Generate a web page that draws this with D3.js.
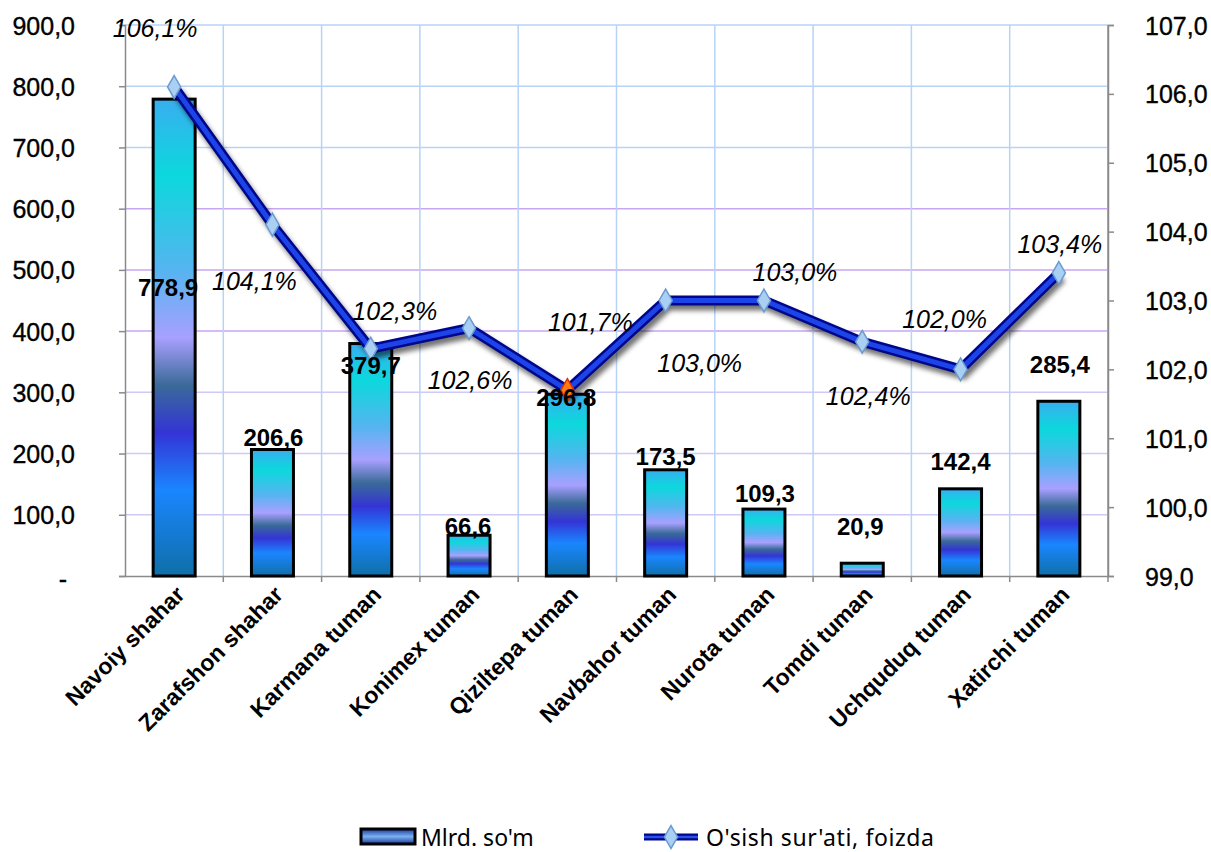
<!DOCTYPE html>
<html><head><meta charset="utf-8">
<script src="https://cdn.jsdelivr.net/npm/d3@7"></script>
<style>
body{margin:0;background:#fff;}
svg{display:block;}
</style></head>
<body>
<svg id="chart" width="1211" height="852"></svg>
<script>
const categories = ["Navoiy shahar","Zarafshon shahar","Karmana tuman","Konimex tuman","Qiziltepa tuman","Navbahor tuman","Nurota tuman","Tomdi tuman","Uchquduq tuman","Xatirchi tuman"];
const volumes = [778.9, 206.6, 379.7, 66.6, 296.8, 173.5, 109.3, 20.9, 142.4, 285.4];
const growth = [106.1, 104.1, 102.3, 102.6, 101.7, 103.0, 103.0, 102.4, 102.0, 103.4];
const leftTicks = [0,100,200,300,400,500,600,700,800,900];
const rightTicks = [99,100,101,102,103,104,105,106,107];
const seriesNames = ["Mlrd. so'm", "O'sish sur'ati, foizda"];

// label placement (layout: pixel offsets of the label baseline relative to its mark)
const barLabelPos = [[-6,197],[1,-4],[0,30],[-1,0],[-1,12],[0,-5],[1,-7],[-2,-28],[0,-19],[1,-28]];
const pctLabelPos = [[-19,-50],[-18,65],[24,-29],[1,61],[23,-59],[34,71],[31,-20],[6,63],[-16,-41],[1,-20]];

const svg = d3.select("#chart");
const m = {l:125, r:1108, t:25, b:576};
const fmt = v => d3.format(".1f")(v).replace(".", ",");
const FONT = "Liberation Sans, Arial, sans-serif";

const x = d3.scaleBand().domain(categories).range([m.l, m.r]).paddingInner(0).paddingOuter(0);
const y = d3.scaleLinear().domain([0,900]).range([m.b, m.t]);
const y2 = d3.scaleLinear().domain([99,107]).range([m.b, m.t]);

const defs = svg.append("defs");
const grad = defs.append("linearGradient").attr("id","barGrad").attr("x1",0).attr("y1",0).attr("x2",0).attr("y2",1);
[[0,"#38aef0"],[0.16,"#0cd8dc"],[0.36,"#56b4f0"],[0.5,"#a8a0ff"],[0.6,"#3a6a98"],[0.7,"#3434d6"],[0.82,"#1a86ff"],[1,"#0f6fa8"]]
  .forEach(([o,c])=>grad.append("stop").attr("offset",o).attr("stop-color",c));
const lg = defs.append("linearGradient").attr("id","legGrad").attr("x1",0).attr("y1",0).attr("x2",0).attr("y2",1);
[[0,"#1a3a9a"],[0.5,"#7ab0f0"],[1,"#1a3a9a"]].forEach(([o,c])=>lg.append("stop").attr("offset",o).attr("stop-color",c));
const f = defs.append("filter").attr("id","shadow").attr("x","-10%").attr("y","-10%").attr("width","130%").attr("height","130%");
f.append("feGaussianBlur").attr("stdDeviation",2.5);

// gridlines
const gridColor = v => (v>=400 && v<=600) ? "#c9a6f2" : (v>=700 ? "#b9d3f7" : "#cfc9f6");
svg.append("g").selectAll("line").data(leftTicks.filter(d=>d>0)).join("line")
  .attr("x1",m.l).attr("x2",m.r).attr("y1",d=>y(d)).attr("y2",d=>y(d))
  .attr("stroke",d=>gridColor(d)).attr("stroke-width",1.5);
svg.append("g").selectAll("line").data(categories.slice(1)).join("line")
  .attr("x1",d=>x(d)).attr("x2",d=>x(d)).attr("y1",m.t).attr("y2",m.b)
  .attr("stroke","#b7d3f7").attr("stroke-width",1.5);
svg.append("line").attr("x1",m.r).attr("x2",m.r).attr("y1",m.t).attr("y2",m.b).attr("stroke","#7fb4f2").attr("stroke-width",2);

// axes
const axL = svg.append("g").attr("transform",`translate(${m.l},0)`)
  .call(d3.axisLeft(y).tickValues(leftTicks).tickSize(6).tickFormat(d=>d===0?"-":fmt(d)));
const axR = svg.append("g").attr("transform",`translate(${m.r},0)`)
  .call(d3.axisRight(y2).tickValues(rightTicks).tickSize(6).tickFormat(fmt));
const axB = svg.append("g").attr("transform",`translate(0,${m.b})`)
  .call(d3.axisBottom(x).tickSize(0).tickFormat(""));
[axL,axR,axB].forEach(a=>{a.select(".domain").attr("stroke","#8a8a8a").attr("stroke-width",1.5);
  a.selectAll(".tick line").attr("stroke","#8a8a8a").attr("stroke-width",1.5);
  a.selectAll("text").attr("font-family",FONT).attr("font-size",25).attr("fill","#000")
   .attr("stroke","#000").attr("stroke-width",0.35).attr("dy","0.36em");});
axL.selectAll(".tick text").attr("text-anchor","end")
  .attr("x",d=>d===0?-58:-50).attr("y",d=>d===0?2:0);
axR.selectAll(".tick text").attr("text-anchor","start").attr("x",37);
// category boundary ticks
svg.append("g").selectAll("line").data(categories).join("line")
  .attr("x1",d=>x(d)+x.bandwidth()).attr("x2",d=>x(d)+x.bandwidth()).attr("y1",m.b).attr("y2",m.b+6)
  .attr("stroke","#8a8a8a").attr("stroke-width",1.5);

// bars
const bw = 42;
svg.append("g").selectAll("rect").data(volumes).join("rect")
  .attr("x",(d,i)=>x(categories[i])+x.bandwidth()/2-bw/2)
  .attr("y",d=>y(d)).attr("width",bw).attr("height",d=>m.b-y(d))
  .attr("fill","url(#barGrad)").attr("stroke","#000").attr("stroke-width",3);

// line
const pts = growth.map((v,i)=>[x(categories[i])+x.bandwidth()/2, y2(v)]);
const line = d3.line();
svg.append("path").attr("d",line(pts)).attr("fill","none").attr("stroke","#000").attr("stroke-opacity",0.55)
  .attr("stroke-width",10).attr("transform","translate(3,5)").attr("filter","url(#shadow)");
svg.append("path").attr("d",line(pts)).attr("fill","none").attr("stroke","#00068a").attr("stroke-width",10);
svg.append("path").attr("d",line(pts)).attr("fill","none").attr("stroke","#1c44e8").attr("stroke-width",5);
const diamond = d3.symbol().type(d3.symbolDiamond).size(150);
svg.append("g").selectAll("path").data(pts).join("path")
  .attr("d",diamond).attr("transform",d=>`translate(${d[0]},${d[1]})`)
  .attr("fill",(d,i)=>i===4?"#ff7a10":"#a9d0f2").attr("stroke",(d,i)=>i===4?"#e03000":"#6c9ad0").attr("stroke-width",1.5);

// bar labels
svg.append("g").selectAll("text").data(volumes).join("text")
  .attr("x",(d,i)=>x(categories[i])+x.bandwidth()/2+barLabelPos[i][0])
  .attr("y",(d,i)=>y(d)+barLabelPos[i][1])
  .attr("text-anchor","middle").attr("font-family",FONT)
  .attr("font-weight","bold").attr("font-size",24).attr("fill","#000").text(d=>fmt(d));

// pct labels
svg.append("g").selectAll("text").data(growth).join("text")
  .attr("x",(d,i)=>pts[i][0]+pctLabelPos[i][0])
  .attr("y",(d,i)=>pts[i][1]+pctLabelPos[i][1])
  .attr("text-anchor","middle").attr("font-family",FONT)
  .attr("font-style","italic").attr("font-size",25).attr("fill","#000").text(d=>fmt(d)+"%");

// category labels
svg.append("g").selectAll("text").data(categories).join("text")
  .attr("transform",d=>`translate(${x(d)+x.bandwidth()/2+12},${m.b+20}) rotate(-45)`)
  .attr("text-anchor","end").attr("font-family",FONT)
  .attr("font-weight","bold").attr("font-size",23).attr("fill","#000").text(d=>d);

// legend
const leg = svg.append("g");
leg.append("rect").attr("x",361).attr("y",829).attr("width",54).attr("height",15).attr("fill","url(#legGrad)").attr("stroke","#000").attr("stroke-width",3);
leg.append("text").attr("x",421).attr("y",846).attr("font-family","Noto Sans, sans-serif").attr("font-size",23).attr("fill","#000").text(seriesNames[0]);
leg.append("line").attr("x1",644).attr("x2",698).attr("y1",837).attr("y2",837).attr("stroke","#00068a").attr("stroke-width",7);
leg.append("line").attr("x1",644).attr("x2",698).attr("y1",837).attr("y2",837).attr("stroke","#2a52e8").attr("stroke-width",2.5);
leg.append("path").attr("d",diamond).attr("transform","translate(671,837)").attr("fill","#a9d0f2").attr("stroke","#6c9ad0").attr("stroke-width",1.5);
leg.append("text").attr("x",706).attr("y",846).attr("font-family","Noto Sans, sans-serif").attr("font-size",23).attr("letter-spacing",0.6).attr("fill","#000").text(seriesNames[1]);
</script>
</body></html>
